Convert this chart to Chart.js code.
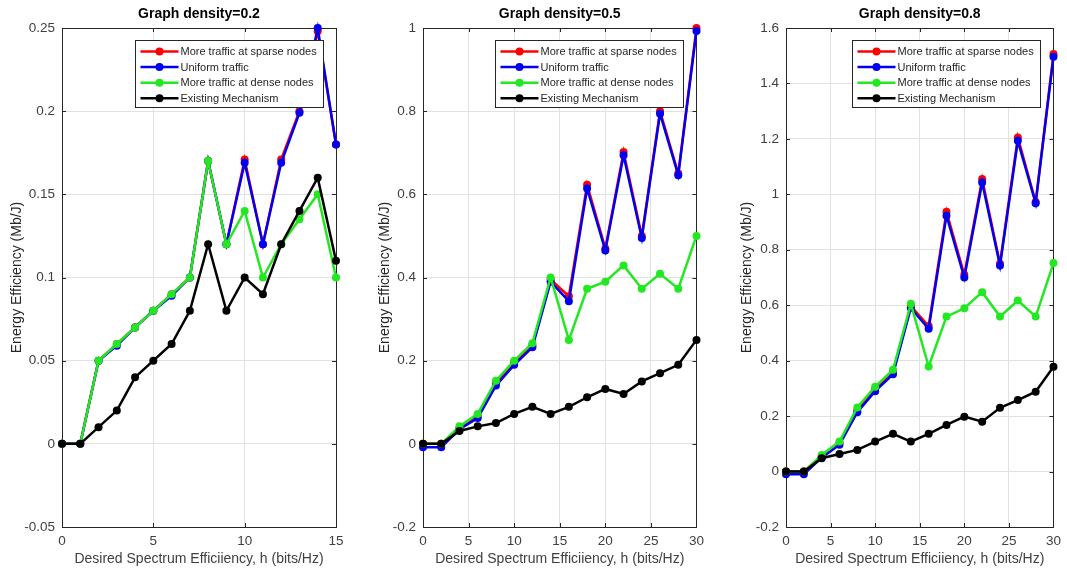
<!DOCTYPE html>
<html>
<head>
<meta charset="utf-8">
<script src="https://cdn.jsdelivr.net/npm/chart.js@4.4.1/dist/chart.umd.min.js"></script>
<style>
  body { margin: 0; background: #fff; }
  #wrap { position: relative; width: 1067px; height: 571px; }
  canvas { position: absolute; top: 0; }
</style>
</head>
<body>
<div id="wrap">
  <canvas id="c1" width="350" height="571" style="left:0px"></canvas>
  <canvas id="c2" width="355" height="571" style="left:355px"></canvas>
  <canvas id="c3" width="355" height="571" style="left:712px"></canvas>
</div>
<script>
// series labels
const seriesNames = [
  "More traffic at sparse nodes",
  "Uniform traffic",
  "More traffic at dense nodes",
  "Existing Mechanism",
];
const seriesColors = ["#ff0000", "#0000f0", "#22e822", "#000000"];

// Graph density = 0.2
const h02 = [0, 1, 2, 3, 4, 5, 6, 7, 8, 9, 10, 11, 12, 13, 14, 15];
const sparse02 = [0, 0, 0.05, 0.06, 0.07, 0.08, 0.09, 0.1, 0.17, 0.12, 0.171, 0.12, 0.171, 0.2, 0.248, 0.18];
const uniform02 = [0, 0, 0.05, 0.059, 0.07, 0.08, 0.089, 0.1, 0.17, 0.12, 0.169, 0.12, 0.169, 0.199, 0.25, 0.18];
const dense02 = [0, 0, 0.05, 0.06, 0.07, 0.08, 0.09, 0.1, 0.17, 0.12, 0.14, 0.1, 0.12, 0.135, 0.15, 0.1];
const existing02 = [0, 0, 0.01, 0.02, 0.04, 0.05, 0.06, 0.08, 0.12, 0.08, 0.1, 0.09, 0.12, 0.14, 0.16, 0.11];

// Graph density = 0.5
const h05 = [0, 2, 4, 6, 8, 10, 12, 14, 16, 18, 20, 22, 24, 26, 28, 30];
const sparse05 = [0, 0, 0.038, 0.067, 0.147, 0.196, 0.237, 0.395, 0.355, 0.623, 0.47, 0.702, 0.5, 0.8, 0.65, 1.0];
const uniform05 = [-0.008, -0.008, 0.035, 0.062, 0.14, 0.19, 0.232, 0.39, 0.343, 0.614, 0.465, 0.694, 0.495, 0.794, 0.646, 0.993];
const dense05 = [0, 0, 0.042, 0.072, 0.152, 0.2, 0.242, 0.4, 0.25, 0.373, 0.39, 0.429, 0.373, 0.409, 0.373, 0.5];
const existing05 = [0, 0, 0.031, 0.042, 0.05, 0.072, 0.089, 0.072, 0.089, 0.112, 0.132, 0.12, 0.15, 0.17, 0.19, 0.25];

// Graph density = 0.8
const h08 = [0, 2, 4, 6, 8, 10, 12, 14, 16, 18, 20, 22, 24, 26, 28, 30];
const sparse08 = [0, 0, 0.055, 0.103, 0.222, 0.298, 0.358, 0.597, 0.525, 0.937, 0.71, 1.055, 0.75, 1.205, 0.972, 1.506];
const uniform08 = [-0.01, -0.01, 0.05, 0.097, 0.214, 0.29, 0.351, 0.59, 0.515, 0.923, 0.7, 1.043, 0.743, 1.193, 0.968, 1.496];
const dense08 = [0, 0, 0.06, 0.108, 0.231, 0.306, 0.367, 0.605, 0.379, 0.559, 0.589, 0.647, 0.559, 0.617, 0.559, 0.752];
const existing08 = [0, 0, 0.048, 0.063, 0.078, 0.108, 0.136, 0.108, 0.136, 0.168, 0.198, 0.18, 0.23, 0.258, 0.288, 0.378];

const fontFam = "'Liberation Sans', Arial, Helvetica, sans-serif";

// matlab-like box with inward ticks (under the lines), legend inside the plot (on top)
const matlabBox = {
  id: "matlabBox",
  beforeDatasetsDraw(chart) {
    const ctx = chart.ctx;
    const a = chart.chartArea;
    const xs = chart.scales.x;
    const ys = chart.scales.y;
    ctx.save();
    ctx.strokeStyle = "#262626";
    ctx.lineWidth = 1;
    ctx.beginPath();
    xs.ticks.forEach((t) => {
      const px = Math.round(xs.getPixelForValue(t.value)) + 0.5;
      ctx.moveTo(px, a.bottom);
      ctx.lineTo(px, a.bottom - 4);
      ctx.moveTo(px, a.top);
      ctx.lineTo(px, a.top + 4);
    });
    ys.ticks.forEach((t) => {
      const py = Math.round(ys.getPixelForValue(t.value)) + 0.5;
      ctx.moveTo(a.left, py);
      ctx.lineTo(a.left + 4, py);
      ctx.moveTo(a.right, py);
      ctx.lineTo(a.right - 4, py);
    });
    ctx.stroke();
    ctx.strokeRect(Math.round(a.left) + 0.5, Math.round(a.top) + 0.5,
      Math.round(a.right - a.left), Math.round(a.bottom - a.top));
    ctx.restore();
  },
  afterDatasetsDraw(chart) {
    const ctx = chart.ctx;
    const a = chart.chartArea;
    ctx.save();
    const w = 188, h = 67;
    const lx = Math.round(a.right - 13 - w) + 0.5;
    const ly = Math.round(a.top + 12) + 0.5;
    ctx.fillStyle = "#ffffff";
    ctx.fillRect(lx, ly, w, h);
    ctx.strokeStyle = "#262626";
    ctx.lineWidth = 1;
    ctx.strokeRect(lx, ly, w, h);
    ctx.font = "11px " + fontFam;
    ctx.textBaseline = "middle";
    chart.data.datasets.forEach((ds, i) => {
      const cy = ly + 11 + i * 15.6;
      ctx.strokeStyle = ds.borderColor;
      ctx.lineWidth = 2.5;
      ctx.beginPath();
      ctx.moveTo(lx + 5, cy);
      ctx.lineTo(lx + 43, cy);
      ctx.stroke();
      ctx.fillStyle = ds.borderColor;
      ctx.beginPath();
      ctx.arc(lx + 24, cy, 4, 0, Math.PI * 2);
      ctx.fill();
      ctx.fillStyle = "#262626";
      ctx.fillText(ds.label, lx + 45, cy + 0.5);
    });
    ctx.restore();
  },
};

function toPoints(xs, ys) {
  return xs.map((x, i) => ({ x: x, y: ys[i] }));
}

function makeChart(id, cfg) {
  const seriesList = [cfg.sparse, cfg.uniform, cfg.dense, cfg.existing];
  // later series are drawn on top (lower order = drawn last)
  const datasets = seriesList.map((ys, i) => ({
    label: seriesNames[i],
    data: toPoints(cfg.h, ys),
    borderColor: seriesColors[i],
    backgroundColor: seriesColors[i],
    borderWidth: 2.5,
    pointRadius: 4,
    pointBorderWidth: 0,
    pointHoverRadius: 4,
    tension: 0,
    clip: false,
    order: 4 - i,
  }));

  const ctx = document.getElementById(id).getContext("2d");
  return new Chart(ctx, {
    type: "line",
    data: { datasets: datasets },
    plugins: [matlabBox],
    options: {
      responsive: false,
      animation: false,
      layout: { autoPadding: false, padding: { left: 0, right: cfg.padRight, top: 0, bottom: 0 } },
      scales: {
        x: {
          type: "linear",
          min: 0,
          max: cfg.xMax,
          ticks: {
            stepSize: 5,
            padding: 6,
            color: "#404040",
            font: { family: fontFam, size: 13.5 },
          },
          grid: { color: "#e2e2e2", drawTicks: false },
          border: { display: false },
          title: {
            display: true,
            text: "Desired Spectrum Efficiiency, h (bits/Hz)",
            color: "#404040",
            font: { family: fontFam, size: 14 },
            padding: { top: 0, bottom: 3 },
          },
          afterFit: (scale) => {
            scale.height = 44;
          },
        },
        y: {
          min: cfg.yMin,
          max: cfg.yMax,
          ticks: {
            stepSize: cfg.yStep,
            padding: 7,
            color: "#404040",
            font: { family: fontFam, size: 13.5 },
            callback: (v) => String(Number(v.toFixed(2))),
          },
          grid: { color: "#e2e2e2", drawTicks: false },
          border: { display: false },
          title: {
            display: true,
            text: "Energy Efficiency (Mb/J)",
            color: "#262626",
            font: { family: fontFam, size: 14 },
            padding: { top: cfg.yTitlePad, bottom: 0 },
          },
          afterFit: (scale) => {
            scale.width = cfg.yWidth;
          },
        },
      },
      plugins: {
        legend: { display: false },
        tooltip: { enabled: false },
        title: {
          display: true,
          fullSize: false,
          text: cfg.title,
          color: "#000000",
          font: { family: fontFam, size: 14, weight: "bold" },
          padding: { top: 5.6, bottom: 5.6 },
        },
      },
    },
  });
}

makeChart("c1", {
  title: "Graph density=0.2",
  h: h02, sparse: sparse02, uniform: uniform02, dense: dense02, existing: existing02,
  xMax: 15, yMin: -0.05, yMax: 0.25, yStep: 0.05,
  yWidth: 62, padRight: 14, yTitlePad: 9,
});
makeChart("c2", {
  title: "Graph density=0.5",
  h: h05, sparse: sparse05, uniform: uniform05, dense: dense05, existing: existing05,
  xMax: 30, yMin: -0.2, yMax: 1, yStep: 0.2,
  yWidth: 68, padRight: 11, yTitlePad: 22,
});
makeChart("c3", {
  title: "Graph density=0.8",
  h: h08, sparse: sparse08, uniform: uniform08, dense: dense08, existing: existing08,
  xMax: 30, yMin: -0.2, yMax: 1.6, yStep: 0.2,
  yWidth: 74, padRight: 7, yTitlePad: 27,
});
</script>
</body>
</html>
